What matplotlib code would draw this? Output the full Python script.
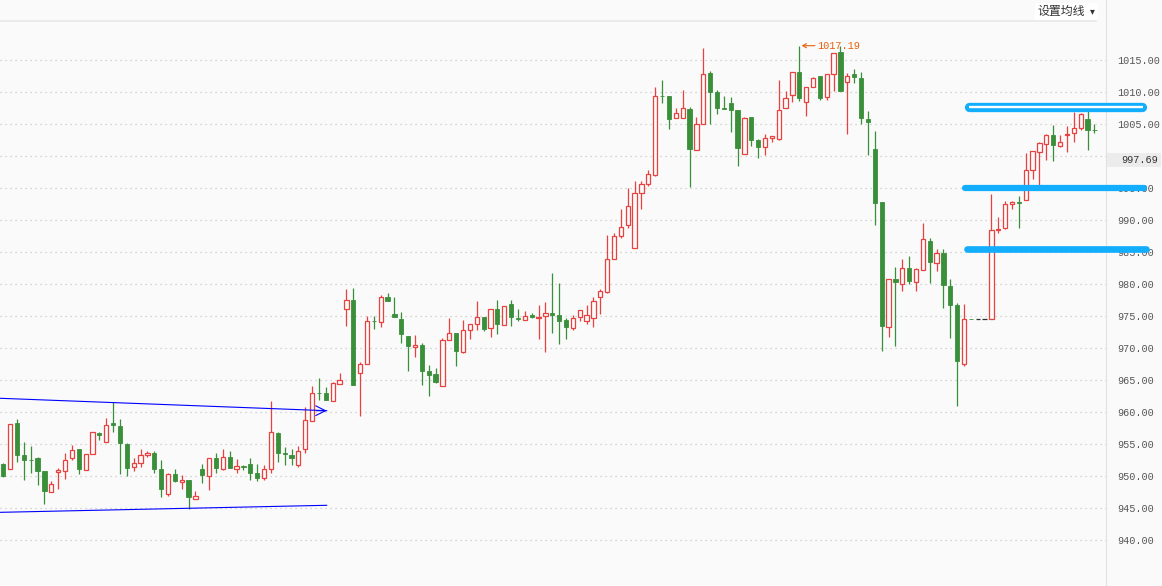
import numpy as np
import matplotlib.pyplot as plt
from matplotlib.patches import Rectangle
from matplotlib.ticker import FormatStrFormatter

# OHLC, one entry per candle
opens = [951.9, 951.1, 958.3, 953.3, 952.5, 952.7, 950.8, 947.5, 950.6, 950.7,
         952.7, 954.1, 950.9, 953.4, 956.7, 955.3, 958.3, 957.8, 955.0, 951.3,
         952.0, 953.2, 953.5, 951.1, 947.1, 950.3, 949.0, 949.4, 946.3, 951.1,
         949.9, 952.8, 951.0, 952.9, 951.0, 951.5, 951.9, 950.5, 949.6, 951.0,
         956.6, 953.5, 953.3, 951.7, 954.1, 958.6, 962.95, 963.0, 961.6, 964.4,
         976.1, 977.5, 966.0, 967.4, 974.2, 974.0, 978.0, 975.2, 974.55, 971.9,
         970.05, 970.5, 966.4, 965.9, 964.0, 971.15, 972.35, 969.4, 972.8, 973.7,
         974.8, 973.1, 976.1, 973.6, 976.9, 974.7, 974.4, 975.05, 974.7, 975.0,
         975.4, 975.05, 974.4, 973.1, 974.8, 974.2, 974.6, 978.0, 978.75, 983.9,
         987.5, 989.1, 985.6, 994.2, 995.6, 997.0, 1009.4, 1009.3, 1005.9, 1005.9,
         1007.3, 1000.9, 1005.0, 1012.9, 1009.9, 1007.4, 1008.2, 1007.1, 1000.2, 1006.0,
         1002.4, 1001.4, 1002.8, 1002.6, 1007.5, 1009.5, 1013.1, 1008.4, 1010.7, 1012.4,
         1009.2, 1012.8, 1016.25, 1011.5, 1012.7, 1012.2, 1005.7, 1001.0, 992.7, 973.2,
         980.8, 980.0, 982.5, 980.3, 982.2, 986.6, 983.3, 984.8, 979.6, 976.6,
         967.4, 974.5, 974.5, 974.5, 974.5, 988.4, 988.7, 992.5, 992.7, 993.1,
         997.7, 1000.65, 1001.9, 1003.2, 1001.5, 1003.2, 1003.6, 1004.4, 1005.7, 1004.05]
highs = [952.0, 958.1, 958.8, 955.2, 954.6, 953.0, 950.8, 949.2, 951.2, 953.5,
         954.8, 954.2, 953.4, 956.8, 956.9, 959.0, 961.5, 958.85, 955.1, 952.8,
         954.1, 953.8, 953.8, 952.5, 950.4, 951.1, 950.05, 949.4, 947.65, 951.9,
         952.8, 953.6, 954.2, 953.9, 952.6, 951.7, 952.8, 951.9, 951.7, 961.7,
         956.9, 954.5, 954.1, 954.6, 960.8, 964.0, 965.2, 963.9, 964.7, 966.0,
         979.1, 979.4, 967.8, 975.0, 975.0, 978.3, 978.6, 978.0, 975.6, 971.9,
         972.0, 970.8, 967.3, 966.9, 971.5, 974.7, 972.35, 974.35, 973.7, 977.3,
         974.8, 976.1, 977.4, 976.5, 977.4, 976.0, 975.7, 975.5, 976.6, 977.1,
         981.6, 980.05, 974.6, 975.15, 975.9, 976.6, 977.9, 979.1, 987.55, 987.9,
         991.6, 994.9, 996.0, 996.0, 997.7, 1010.8, 1011.8, 1009.3, 1007.4, 1010.2,
         1007.6, 1006.1, 1016.8, 1013.3, 1010.3, 1009.3, 1009.1, 1007.1, 1006.1, 1006.0,
         1002.6, 1003.4, 1003.1, 1011.8, 1010.1, 1013.1, 1017.19, 1010.7, 1012.3, 1012.4,
         1012.8, 1016.1, 1017.1, 1013.0, 1013.5, 1013.1, 1007.0, 1003.8, 992.7, 980.8,
         982.55, 983.9, 984.3, 982.5, 989.5, 987.2, 985.4, 985.4, 980.7, 977.0,
         976.9, 974.5, 974.5, 974.5, 994.0, 990.5, 992.9, 993.0, 993.65, 1000.4,
         1000.7, 1002.2, 1003.4, 1004.8, 1003.3, 1004.6, 1006.8, 1006.7, 1007.75, 1004.9]
lows = [949.8, 951.1, 952.1, 949.4, 950.4, 948.6, 945.6, 947.4, 948.0, 949.5,
        952.5, 950.3, 950.9, 953.4, 955.6, 955.3, 956.8, 950.3, 949.9, 950.7,
        951.3, 952.9, 950.4, 946.6, 946.8, 949.0, 948.0, 944.8, 946.3, 948.85,
        947.7, 950.5, 950.9, 951.15, 950.4, 950.9, 949.3, 949.1, 949.4, 950.4,
        952.2, 951.6, 951.7, 951.35, 953.6, 958.5, 961.8, 961.8, 961.6, 964.3,
        973.35, 964.2, 959.4, 967.4, 972.9, 973.2, 977.3, 974.8, 970.8, 966.4,
        968.6, 964.2, 962.4, 964.55, 964.0, 971.15, 967.1, 969.1, 971.3, 972.8,
        972.6, 971.6, 972.1, 973.6, 973.4, 974.2, 974.4, 974.6, 971.35, 969.3,
        972.3, 970.6, 971.3, 972.8, 974.2, 973.7, 973.2, 975.3, 978.5, 983.8,
        987.1, 988.7, 985.6, 991.7, 995.3, 996.8, 1008.2, 1004.1, 1005.9, 1005.9,
        995.1, 1000.9, 1005.0, 1004.95, 1006.5, 1007.3, 1003.7, 998.4, 1000.2, 1001.5,
        999.7, 1000.05, 1002.2, 1002.5, 1007.5, 1008.4, 1008.5, 1006.2, 1010.7, 1008.7,
        1008.7, 1010.05, 1010.1, 1003.4, 1011.35, 1004.9, 1000.1, 989.2, 969.5, 971.7,
        970.3, 978.85, 980.0, 978.85, 982.2, 980.1, 982.0, 976.2, 971.5, 960.9,
        967.2, 974.5, 974.5, 974.5, 974.5, 988.0, 988.5, 991.6, 988.7, 993.1,
        996.3, 995.1, 999.3, 999.2, 1001.4, 1000.6, 1002.2, 1004.0, 1000.9, 1003.6]
closes = [949.9, 958.1, 953.3, 952.5, 952.4, 950.8, 947.6, 948.7, 950.9, 952.5,
          954.0, 951.1, 953.4, 956.8, 956.3, 957.9, 957.9, 955.05, 951.25, 952.0,
          953.3, 953.5, 951.0, 947.9, 950.3, 949.1, 949.4, 946.6, 946.9, 950.05,
          952.8, 951.15, 952.9, 951.15, 951.5, 951.4, 950.5, 949.6, 951.1, 956.9,
          953.5, 953.4, 952.7, 953.9, 958.7, 962.9, 962.9, 961.8, 964.5, 964.95,
          977.5, 964.2, 967.4, 974.2, 974.1, 978.0, 977.3, 974.8, 972.1, 970.2,
          970.4, 966.4, 965.8, 964.7, 971.2, 972.3, 969.5, 972.8, 973.7, 974.8,
          973.0, 976.1, 973.7, 976.5, 974.8, 974.5, 975.0, 974.8, 974.85, 975.4,
          975.1, 974.2, 973.2, 974.7, 975.9, 975.05, 977.3, 978.8, 983.9, 987.5,
          988.9, 992.2, 994.1, 995.6, 997.2, 1009.4, 1009.3, 1005.7, 1006.6, 1007.5,
          1001.0, 1005.0, 1012.7, 1009.95, 1007.45, 1007.3, 1007.1, 1001.2, 1005.9, 1002.5,
          1001.35, 1002.8, 1003.1, 1007.2, 1009.0, 1013.1, 1009.0, 1010.7, 1012.1, 1009.0,
          1012.8, 1016.1, 1010.1, 1012.4, 1012.3, 1005.9, 1005.2, 992.6, 973.4, 980.8,
          980.3, 982.5, 980.4, 982.3, 987.0, 983.4, 984.8, 979.8, 976.7, 967.9,
          974.5, 974.45, 974.5, 974.5, 988.4, 988.6, 992.5, 992.7, 992.6, 997.7,
          1000.7, 1002.0, 1003.2, 1001.75, 1002.1, 1003.4, 1004.4, 1006.5, 1004.0, 1004.0]

yticks = list(range(940, 1020, 5))
last_price = 997.69
peak_label = "1017.19"
peak_idx = 116

# hand-drawn lines on the chart
channel_x = [-0.48, 47.13]
channel_top = [962.1, 960.16]
channel_bot = [944.28, 945.38]
levels = [1007.6, 994.9, 985.5]

red = '#e8413f'
green = '#3a8f3a'
bg = '#fafafa'
blue = '#12adfd'

W, H = 1162, 586
fig = plt.figure(figsize=(W / 100, H / 100), dpi=100, facecolor=bg)
ax = fig.add_axes([0, 0, 1105.5 / W, 1])
ax.set_facecolor(bg)

x = np.arange(len(opens))
o = np.array(opens); c = np.array(closes); h = np.array(highs); l = np.array(lows)
up = c > o
down = c < o
flat = c == o
bw = 0.62

# wicks
for i in x:
    if up[i]:
        ax.vlines(i, c[i], h[i], color=red, lw=0.9, zorder=2)
        ax.vlines(i, l[i], o[i], color=red, lw=0.9, zorder=2)
    elif down[i]:
        ax.vlines(i, l[i], h[i], color=green, lw=0.9, zorder=2)

ax.bar(x[up], (c - o)[up], bottom=o[up], width=bw, facecolor=bg,
       edgecolor=red, linewidth=0.9, zorder=3)
ax.bar(x[down], (c - o)[down], bottom=o[down], width=bw, facecolor=green,
       edgecolor=green, linewidth=0.6, zorder=3)
ax.hlines(c[flat], x[flat] - bw / 2, x[flat] + bw / 2, color='#333333', lw=0.9, zorder=3)

# channel
ax.plot(channel_x, channel_top, color='#0000ff', lw=0.8, zorder=4, clip_on=False)
ax.plot(channel_x, channel_bot, color='#0000ff', lw=0.8, zorder=4, clip_on=False)
ax.annotate('', xy=(channel_x[1], channel_top[1]), xytext=(channel_x[1] - 1.5, channel_top[1]),
            arrowprops=dict(arrowstyle='->,head_length=0.7,head_width=0.35', color='#0000ff',
                            lw=0.8, shrinkA=0, shrinkB=0), zorder=4)

# horizontal levels
ax.plot([140.8, 165.95], [levels[0]] * 2, color=blue, lw=6.7, solid_capstyle='round',
        zorder=6, clip_on=False)
ax.plot([140.7, 166.1], [levels[0]] * 2, color='white', lw=1.7, solid_capstyle='butt',
        zorder=7, clip_on=False)
ax.plot([140.14, 166.2], [levels[1]] * 2, color=blue, lw=4.5, solid_capstyle='round',
        zorder=6, clip_on=False)
ax.plot([140.5, 166.5], [levels[2]] * 2, color=blue, lw=4.8, solid_capstyle='round',
        zorder=6, clip_on=False)

# peak label
ax.annotate(peak_label, xy=(peak_idx + 0.35, highs[peak_idx]), xytext=(16, 0),
            textcoords='offset pixels', va='center', ha='left', color='#e8600a',
            family='Liberation Mono', fontsize=7.4,
            arrowprops=dict(arrowstyle='->,head_length=0.35,head_width=0.2', color='#e8600a',
                            lw=0.8, shrinkA=0, shrinkB=0), zorder=8)

ax.set_xlim(-0.48, 160.62)
ax.set_ylim(932.77, 1024.33)
ax.set_yticks(yticks)
ax.yaxis.set_major_formatter(FormatStrFormatter('%.2f'))
ax.yaxis.tick_right()
ax.tick_params(axis='y', length=0, pad=8.5, labelsize=7.3, labelcolor='#555555')
for t in ax.get_yticklabels():
    t.set_family('Liberation Mono')
ax.set_xticks([])
ax.grid(axis='y', color='#c8c8c8', linestyle=(0, (1, 3)), lw=0.9)
ax.set_axisbelow(True)
for s in ['top', 'left', 'bottom']:
    ax.spines[s].set_visible(False)
ax.spines['right'].set_color('#e2e2e2')

# line under the header
ax.plot([-0.48, 159.3], [1021.0] * 2, color='#e8e8e8', lw=1.2, zorder=1)

# last price box
fig.add_artist(Rectangle((1107 / W, 1 - 167.3 / H), 53.5 / W, 14 / H, transform=fig.transFigure,
                         facecolor='#ececec', edgecolor='none', zorder=10))
fig.text(1158 / W, 1 - 160.3 / H, f'{last_price:.2f}', ha='right', va='center',
         family='Liberation Mono', fontsize=7.4, color='#333333', zorder=11)

# header menu
fig.add_artist(Rectangle((1035 / W, 1 - 20 / H), 63 / W, 17 / H, transform=fig.transFigure,
                         facecolor='white', edgecolor='none', zorder=10))
fig.text(1037 / W, 1 - 11.5 / H, '设置均线', ha='left', va='center',
         family=['Noto Sans CJK SC', 'DejaVu Sans'], fontsize=8.6, color='#333333', zorder=11)
fig.text(1092 / W, 1 - 11.5 / H, '▾', ha='center', va='center',
         family=['DejaVu Sans'], fontsize=7, color='#333333', zorder=11)

fig.savefig('out.png', dpi=100, facecolor=bg)
